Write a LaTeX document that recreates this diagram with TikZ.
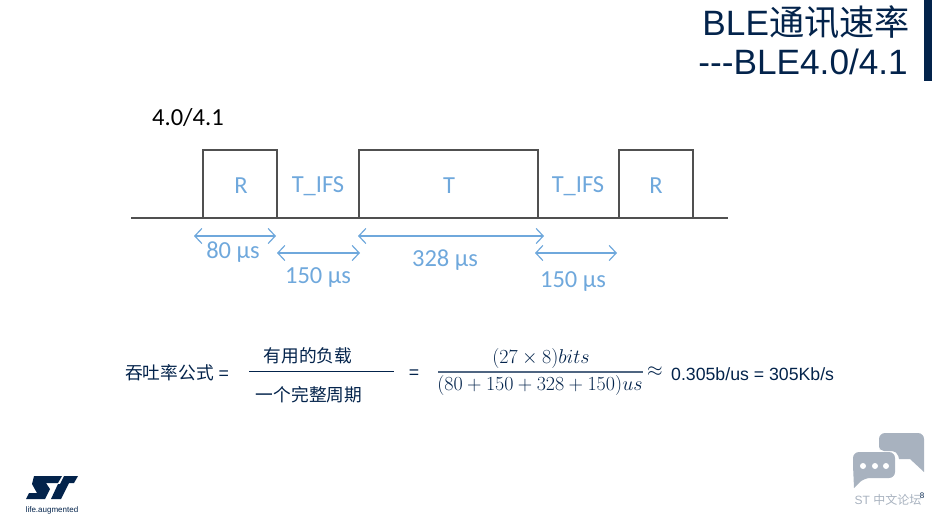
\RequirePackage{fix-cm}
\documentclass[tikz,border=0pt]{standalone}
\usepackage{amsmath}
\usepackage{xcolor}
\usepackage{fontspec}
\setmainfont{Liberation Sans}
\newfontfamily\cjk{Noto Sans CJK SC}
\newfontfamily\calibrifont{Carlito}
\usetikzlibrary{arrows.meta}
\definecolor{stnavy}{HTML}{03234B}
\definecolor{waveblue}{HTML}{6FA8DC}
\definecolor{waveline}{HTML}{505050}
\definecolor{bubblegray}{HTML}{A8B2BF}
\tikzset{
  slotbox/.style={draw=waveline, line width=1.5pt, minimum height=68pt, inner sep=0pt, outer sep=0pt, anchor=south west},
  waveaxis/.style={draw=waveline, line width=1.5pt},
  wavelabel/.style={text=waveblue, font=\calibrifont\fontsize{24.5}{28}\selectfont, inner sep=0pt},
  spanarrow/.style={draw=waveblue, line width=1.2pt, {Straight Barb[length=7pt,width=15pt]}-{Straight Barb[length=7pt,width=15pt]}},
  formula/.style={text=stnavy, font=\fontsize{17.7}{21}\selectfont, inner sep=0pt},
  mathpart/.style={text=stnavy, font=\fontsize{20}{24}\selectfont, inner sep=0pt},
  headline/.style={text=stnavy, font=\fontsize{35.2}{40}\selectfont, inner sep=0pt, anchor=east}
}
\begin{document}
\begin{tikzpicture}[x=1pt,y=-1pt]
    \useasboundingbox (0,0) rectangle (932,516);
    % heading
    \fill[stnavy] (924,0) rectangle (932,81);
    \node[headline] (title1) at (910,22) {BLE{\cjk 通讯速率}};
    \node[headline] (title2) at (908,62) {{-}{-}{-}BLE4.0/4.1};
    \node[inner sep=0pt, font=\calibrifont\fontsize{24.5}{28}\selectfont, anchor=west] (version) at (152,118) {4.0/4.1};

    % time slots
    \coordinate (linestart) at (131,218);
    \coordinate (lineend) at (728,218);
    \node[slotbox, minimum width=74pt] (slot1) at (203,218) {};
    \node[slotbox, minimum width=179pt] (slot2) at (359,218) {};
    \node[slotbox, minimum width=74pt] (slot3) at (619,218) {};
    \draw[waveaxis] (linestart) -- (slot1.south west);
    \draw[waveaxis] (slot1.south east) -- (slot2.south west);
    \draw[waveaxis] (slot2.south east) -- (slot3.south west);
    \draw[waveaxis] (slot3.south east) -- (lineend);
    \node[wavelabel] (labelr1) at (241,186) {R};
    \node[wavelabel] (ifs1) at (318,186) {T\_IFS};
    \node[wavelabel] (labelt) at (449,186) {T};
    \node[wavelabel] (ifs2) at (578,186) {T\_IFS};
    \node[wavelabel] (labelr2) at (656,186) {R};

    % durations
    \coordinate (a1) at (194,236);
    \coordinate (b1) at (276,236);
    \coordinate (a2) at (277,253);
    \coordinate (b2) at (360,253);
    \coordinate (a3) at (358,236);
    \coordinate (b3) at (544,236);
    \coordinate (a4) at (535,253);
    \coordinate (b4) at (617,253);
    \draw[spanarrow] (a1) -- (b1);
    \draw[spanarrow] (a2) -- (b2);
    \draw[spanarrow] (a3) -- (b3);
    \draw[spanarrow] (a4) -- (b4);
    \node[wavelabel] (time1) at (233,252) {80 µs};
    \node[wavelabel] (time2) at (318,278) {150 µs};
    \node[wavelabel] (time3) at (445,260) {328 µs};
    \node[wavelabel] (time4) at (573,282) {150 µs};

    % formula
    \node[formula, anchor=west] (rate) at (125,373) {{\cjk 吞吐率公式} =};
    \node[formula] (payload) at (308,356) {\cjk 有用的负载};
    \node[formula] (period) at (309,395) {\cjk 一个完整周期};
    \draw[stnavy, line width=1pt] (249,371) -- (394,371);
    \node[formula] (equal) at (414,374) {=};
    \node[mathpart] (numer) at (541,358) {$(27\times 8)bits$};
    \node[mathpart] (denom) at (540,385) {$(80+150+328+150)us$};
    \draw[stnavy!70, line width=1.2pt] (438,372) -- (643,372);
    \node[mathpart] (approx) at (655,372) {$\approx$};
    \node[formula, anchor=west] (result) at (671,374) {0.305b/us = 305Kb/s};

    % logo
    \fill[stnavy] (34,476) -- (62,476) -- (58,483) -- (46,483) -- (50,489) -- (45,499) -- (26,499) -- (29,493) -- (37,493) -- (32,484) -- cycle;
    \fill[stnavy] (60,484) -- (64,476) -- (78,476) -- (74,483) -- (69,483) -- (61,499) -- (51,499) -- (58,484) -- cycle;
    \node[inner sep=0pt, text=stnavy, font=\fontsize{8}{10}\selectfont] (slogan) at (52,510) {life.augmented};

    % forum badge
    \fill[bubblegray] (879,445) [rounded corners=6pt] -- (879,433) -- (924,433) -- (924,455) [sharp corners] -- (924,472) -- (910,459) -- (899,459) [rounded corners=5pt] -- (897,451) -- (879,451) -- cycle;
    \fill[bubblegray] (853,465) [rounded corners=6pt] -- (853,452) -- (895,452) -- (895,478) -- (864,478) [sharp corners] -- (854,488) -- cycle;
    \foreach \dotx in {863,875,886}
        \fill[white] (\dotx,466) circle (3pt);
    \node[inner sep=0pt, text=bubblegray, font=\fontsize{12}{14}\selectfont] (forum) at (888,500) {ST {\cjk 中文论坛}};
    \node[inner sep=0pt, text=stnavy, font=\fontsize{8}{10}\selectfont] (page) at (922,496) {8};
\end{tikzpicture}
\end{document}
